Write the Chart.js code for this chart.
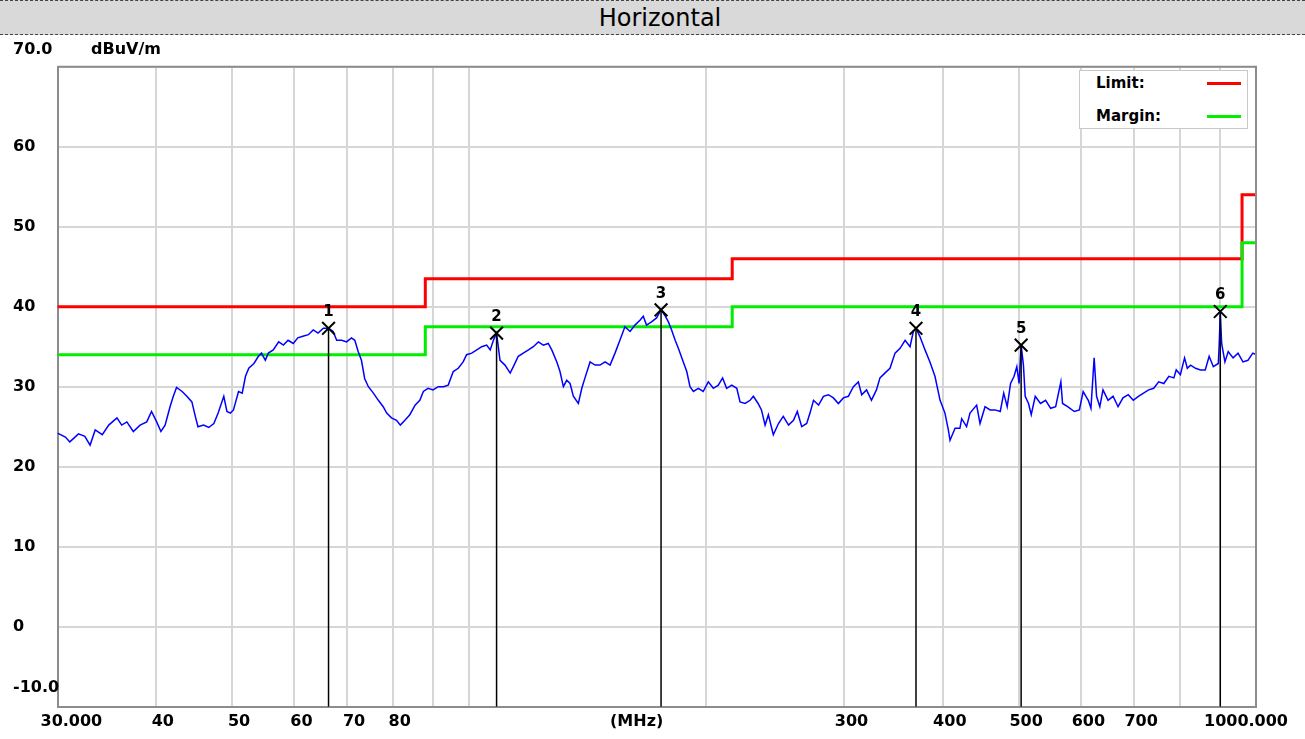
<!DOCTYPE html>
<html>
<head>
<meta charset="utf-8">
<script src="https://cdn.jsdelivr.net/npm/chart.js@4"></script>
<style>
    body { margin: 0; background: #fff; }
    #wrap { position: relative; width: 1305px; height: 739px; overflow: hidden; }
    #scan { position: absolute; left: 0; top: 0; }
    #title {
        position: absolute; left: 0; top: 0; width: 1290px; height: 33px;
        padding-left: 15px;
        background: #d9d9d9;
        border-top: 1px dashed #444; border-bottom: 1px dashed #444;
        font: 24px "DejaVu Sans"; line-height: 34px; text-align: center; color: #000;
    }
    #legend {
        position: absolute; left: 1079px; top: 70px; width: 167px; height: 57px;
        background: #fff; border: 1px solid #c8c8c8;
        font: bold 15px "DejaVu Sans"; color: #000;
    }
    .leg-row { position: absolute; left: 16px; height: 20px; line-height: 20px; }
    .leg-line { position: absolute; left: 127px; width: 34px; height: 3px; }
</style>
</head>
<body>
<div id="wrap">
    <canvas id="scan" width="1305" height="739"></canvas>
    <div id="title">Horizontal</div>
    <div id="legend"></div>
</div>
<script>
// Axis ticks
const xTickValues = [30, 40, 50, 60, 70, 80, 160, 300, 400, 500, 600, 700, 1000];
const xTickLabels = ['30.000', '40', '50', '60', '70', '80', '(MHz)', '300', '400', '500', '600', '700', '1000.000'];
const xGridValues = [40, 50, 60, 70, 80, 90, 100, 200, 300, 400, 500, 600, 700, 800, 900];
const yTopLabel = '70.0';
const yUnitLabel = 'dBuV/m';
const yBottomLabel = '-10.0';

// Limit / margin steps (MHz, dBuV/m)
const limitFreq = [30, 88, 216, 960, 1000];
const limitLevel = [40, 43.5, 46, 54, 54];
const marginLevel = [34, 37.5, 40, 48, 48];

// Peak markers
const markerFreq = [66.3, 108.4, 175.4, 369.8, 503.0, 900.8];
const markerLevel = [37.3, 36.7, 39.6, 37.3, 35.2, 39.4];

// Measured trace [MHz, dBuV/m]
const tracePoints = [
    [30.0, 24.2], [30.7, 23.7], [31.1, 23.1], [31.9, 24.1], [32.5, 23.8], [33.0, 22.7], [33.5, 24.6],
    [34.2, 24.0], [34.85, 25.2], [35.7, 26.1], [36.2, 25.2], [36.75, 25.6], [37.45, 24.4], [38.2, 25.2],
    [38.95, 25.6], [39.5, 26.9], [40.1, 25.6], [40.6, 24.4], [41.1, 25.2], [41.7, 27.5], [42.1, 28.8],
    [42.5, 29.9], [43.2, 29.4], [43.8, 28.8], [44.45, 28.1], [44.9, 26.3], [45.25, 25.0], [46.0, 25.2],
    [46.7, 24.9], [47.4, 25.4], [48.0, 26.7], [48.8, 28.8], [49.25, 26.9], [49.75, 26.7], [50.2, 27.1],
    [50.95, 29.4], [51.5, 29.2], [52.0, 31.3], [52.5, 32.3], [53.3, 32.9], [54.0, 33.8], [54.5, 34.2],
    [55.1, 33.3], [55.6, 34.2], [56.4, 34.6], [57.3, 35.6], [58.1, 35.2], [58.9, 35.8], [59.8, 35.4],
    [60.6, 36.1], [61.5, 36.3], [62.5, 36.5], [63.4, 37.1], [64.3, 36.7], [65.3, 37.3], [66.3, 37.3],
    [67.2, 36.9], [67.9, 35.8], [68.9, 35.8], [69.9, 35.6], [70.9, 36.1], [71.6, 35.8], [72.3, 34.4],
    [73.0, 33.3], [73.7, 31.0], [74.5, 30.0], [75.6, 29.2], [76.7, 28.3], [77.8, 27.5], [78.6, 26.7],
    [79.7, 26.1], [80.9, 25.8], [81.8, 25.2], [82.9, 25.8], [84.1, 26.5], [85.4, 27.7], [86.6, 28.3],
    [87.5, 29.4], [88.7, 29.8], [90.0, 29.6], [91.4, 30.0], [92.8, 30.0], [94.1, 30.2], [95.5, 31.9],
    [96.9, 32.3], [98.3, 33.1], [99.3, 34.0], [100.8, 34.2], [102.3, 34.6], [103.8, 35.0], [105.3, 35.2],
    [106.4, 34.6], [107.4, 35.8], [108.4, 36.7], [109.5, 33.3], [111.1, 32.7], [112.8, 31.7], [114.1, 32.7],
    [115.5, 33.8], [117.2, 34.2], [119.0, 34.6], [120.7, 35.0], [122.5, 35.6], [124.3, 35.2], [126.1, 35.4],
    [127.4, 34.6], [129.3, 33.1], [130.5, 31.9], [131.8, 30.0], [133.1, 30.8], [134.4, 30.4], [135.7, 28.8],
    [137.7, 27.9], [139.1, 29.8], [140.4, 31.1], [142.5, 33.1], [144.6, 32.7], [146.7, 32.7], [148.9, 33.1],
    [151.1, 32.7], [153.3, 34.2], [155.5, 35.8], [157.8, 37.5], [160.2, 36.9], [162.5, 37.7], [164.9, 38.3],
    [166.5, 38.8], [168.1, 37.7], [170.6, 38.1], [173.1, 38.6], [175.4, 39.6], [177.4, 38.9], [179.2, 38.1],
    [180.9, 37.1], [182.8, 35.8], [184.5, 34.8], [187.2, 33.1], [189.1, 31.9], [190.9, 30.0], [192.8, 29.4],
    [195.6, 29.8], [198.4, 29.4], [201.4, 30.6], [204.4, 29.8], [207.4, 30.2], [210.0, 31.1], [212.5, 29.8],
    [215.7, 30.2], [218.9, 29.8], [221.0, 28.1], [224.3, 27.9], [227.6, 28.3], [229.8, 28.8], [233.0, 27.9],
    [235.3, 27.1], [237.8, 25.2], [240.1, 26.5], [243.6, 24.0], [247.3, 25.4], [250.8, 26.3], [254.7, 25.2],
    [258.4, 25.8], [261.3, 26.9], [264.7, 25.0], [268.6, 25.4], [271.2, 26.7], [274.0, 28.3], [278.1, 27.7],
    [282.1, 28.8], [286.2, 29.0], [290.4, 28.6], [294.7, 27.9], [299.0, 28.6], [303.4, 28.8], [307.9, 30.0],
    [312.4, 30.6], [315.5, 29.0], [320.0, 29.6], [324.6, 28.3], [329.4, 29.6], [332.8, 31.1], [337.6, 31.7],
    [342.7, 32.3], [347.8, 34.2], [353.0, 34.8], [358.2, 35.8], [363.4, 35.0], [366.9, 36.9], [369.8, 37.3],
    [374.0, 36.3], [379.7, 34.6], [385.2, 33.1], [390.9, 31.3], [396.8, 28.3], [402.5, 26.7], [406.5, 24.6],
    [408.5, 23.3], [414.6, 24.8], [420.5, 24.8], [422.7, 26.0], [428.8, 25.0], [433.1, 26.7], [441.6, 27.7],
    [446.0, 25.4], [452.6, 27.5], [459.3, 27.1], [466.2, 27.1], [473.2, 26.9], [478.0, 29.2], [482.9, 27.5],
    [487.7, 30.4], [492.7, 31.3], [496.7, 32.5], [500.0, 30.4], [503.0, 35.2], [506.4, 32.7], [509.0, 28.8],
    [514.0, 27.9], [518.1, 26.5], [524.2, 28.8], [532.3, 27.9], [540.3, 28.3], [548.4, 27.3], [556.5, 27.5],
    [565.0, 30.6], [567.8, 27.9], [576.3, 27.5], [587.7, 26.9], [596.4, 27.1], [603.1, 29.4], [612.2, 28.3],
    [617.0, 27.3], [622.8, 33.6], [627.2, 28.8], [633.2, 27.5], [639.1, 29.6], [648.7, 28.3], [658.2, 28.8],
    [667.9, 27.5], [677.6, 28.6], [688.1, 29.0], [698.3, 28.3], [708.9, 28.8], [719.6, 29.2], [730.5, 29.6],
    [741.4, 29.8], [752.2, 30.6], [763.6, 30.4], [775.0, 31.3], [786.4, 31.1], [791.9, 32.1], [801.5, 31.5],
    [811.4, 33.6], [817.9, 32.3], [825.8, 32.7], [837.9, 32.3], [850.0, 32.1], [862.0, 32.1], [871.9, 33.8],
    [882.6, 32.5], [895.6, 32.9], [898.2, 35.6], [900.8, 39.4], [904.4, 35.4], [913.1, 33.1], [921.9, 34.4],
    [935.2, 33.6], [948.8, 34.2], [962.6, 33.1], [976.6, 33.3], [990.7, 34.2], [1000, 34.0]
];

const legendItems = [
    { name: 'Limit:', color: '#ff0000' },
    { name: 'Margin:', color: '#00ee00' }
];

const FONT = 'DejaVu Sans';
const xAllTicks = [...new Set(xTickValues.concat(xGridValues))].sort((a, b) => a - b);

// HTML legend in the top right corner of the plot
function buildLegend() {
    const box = document.getElementById('legend');
    legendItems.forEach((item, i) => {
        const top = 2 + i * 33;
        box.insertAdjacentHTML('beforeend',
            `<div class="leg-row" style="top:${top}px">${item.name}</div>` +
            `<div class="leg-line" style="top:${top + 9}px;background:${item.color}"></div>`);
    });
}

// Frame, x labels, marker numbers and the end labels of the y axis
const scanDecor = {
    id: 'scanDecor',
    afterDatasetsDraw(chart) {
        const { ctx, chartArea, scales } = chart;
        ctx.save();
        ctx.strokeStyle = '#8c8c8c';
        ctx.lineWidth = 2;
        ctx.beginPath();
        ctx.moveTo(chartArea.left, chartArea.top);
        ctx.lineTo(chartArea.right, chartArea.top);
        ctx.lineTo(chartArea.right, chartArea.bottom);
        ctx.stroke();

        ctx.fillStyle = '#000';
        ctx.font = `bold 15px "${FONT}"`;
        ctx.textAlign = 'center';
        ctx.textBaseline = 'middle';
        markerFreq.forEach((f, i) => {
            const x = scales.x.getPixelForValue(f);
            const y = scales.y.getPixelForValue(markerLevel[i]);
            ctx.fillText(String(i + 1), x, y - 16);
        });

        // x labels: first one starts left of the axis, last one ends right of it
        ctx.font = `bold 16px "${FONT}"`;
        const last = xTickValues.length - 1;
        const labelY = chartArea.bottom + 15;
        xTickValues.forEach((v, i) => {
            const px = scales.x.getPixelForValue(v);
            if (i === 0) {
                ctx.textAlign = 'left';
                ctx.fillText(xTickLabels[i], px - 17, labelY);
            } else if (i === last) {
                ctx.textAlign = 'right';
                ctx.fillText(xTickLabels[i], px + 32, labelY);
            } else {
                ctx.textAlign = 'center';
                ctx.fillText(xTickLabels[i], px + 7, labelY);
            }
        });

        ctx.textAlign = 'left';
        const yTop = scales.y.getPixelForValue(70);
        ctx.fillText(yTopLabel, 13, yTop - 17);
        ctx.fillText(yUnitLabel, 91, yTop - 17);
        ctx.fillText(yBottomLabel, 13, scales.y.getPixelForValue(-10) - 19);
        ctx.restore();
    }
};

function markerLineData() {
    const pts = [];
    markerFreq.forEach((f, i) => {
        pts.push({ x: f, y: markerLevel[i] });
        pts.push({ x: f, y: -10 });
        pts.push({ x: f, y: null });
    });
    return pts;
}

function renderChart() {
    const ctx = document.getElementById('scan').getContext('2d');
    new Chart(ctx, {
        type: 'line',
        data: {
            datasets: [
                {
                    label: 'Markers',
                    data: markerFreq.map((f, i) => ({ x: f, y: markerLevel[i] })),
                    showLine: false,
                    pointStyle: 'crossRot',
                    pointRadius: 9,
                    pointBorderWidth: 2,
                    pointBorderColor: '#000',
                    order: 0
                },
                {
                    label: 'Marker lines',
                    data: markerLineData(),
                    borderColor: '#000',
                    borderWidth: 1.5,
                    spanGaps: false,
                    pointRadius: 0,
                    order: 1
                },
                {
                    label: 'Trace',
                    data: tracePoints.map(p => ({ x: p[0], y: p[1] })),
                    borderColor: '#0000ff',
                    borderWidth: 1.5,
                    pointRadius: 0,
                    tension: 0,
                    order: 2
                },
                {
                    label: 'Margin',
                    data: limitFreq.map((f, i) => ({ x: f, y: marginLevel[i] })),
                    borderColor: legendItems[1].color,
                    borderWidth: 3,
                    stepped: 'before',
                    pointRadius: 0,
                    order: 3
                },
                {
                    label: 'Limit',
                    data: limitFreq.map((f, i) => ({ x: f, y: limitLevel[i] })),
                    borderColor: legendItems[0].color,
                    borderWidth: 3,
                    stepped: 'before',
                    pointRadius: 0,
                    order: 4
                }
            ]
        },
        options: {
            responsive: false,
            animation: false,
            devicePixelRatio: 1,
            layout: { padding: { left: 13, top: 66.7, right: 49, bottom: 0 } },
            plugins: {
                legend: { display: false },
                tooltip: { enabled: false }
            },
            scales: {
                x: {
                    type: 'logarithmic',
                    min: 30,
                    max: 1000,
                    afterBuildTicks: scale => { scale.ticks = xAllTicks.map(v => ({ value: v })); },
                    afterFit: scale => { scale.height = 32.3; },
                    grid: {
                        color: c => (c.tick && xGridValues.includes(c.tick.value)) ? '#d6d6d6' : 'rgba(0,0,0,0)',
                        lineWidth: 2,
                        drawTicks: false
                    },
                    border: { color: '#8c8c8c', width: 2 },
                    ticks: { display: false }
                },
                y: {
                    min: -10,
                    max: 70,
                    afterFit: scale => { scale.width = 44.5; },
                    grid: { color: '#d6d6d6', lineWidth: 2, drawTicks: false },
                    border: { color: '#8c8c8c', width: 2 },
                    ticks: {
                        stepSize: 10,
                        crossAlign: 'far',
                        color: '#000',
                        font: { family: FONT, size: 16, weight: 'bold' },
                        callback: v => (v === 70 || v === -10) ? '' : String(v)
                    }
                }
            }
        },
        plugins: [scanDecor]
    });
}

buildLegend();
renderChart();
</script>
</body>
</html>
